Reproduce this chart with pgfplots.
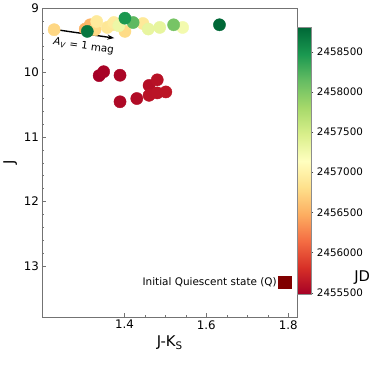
\documentclass[border=0pt]{standalone}
\usepackage{fontspec}
\setmainfont{DejaVu Sans}
\usepackage{pgfplots}
\usepackage{pgfplotstable}
\pgfplotsset{compat=1.18}
\usetikzlibrary{arrows.meta}

% J-Ks, J, Julian date (ordered by date)
\pgfplotstableread{
x     y      jd
1.338 10.052 2455480
1.349 9.991  2455500
1.389 10.046 2455520
1.389 10.457 2455540
1.430 10.407 2455560
1.460 10.204 2455580
1.480 10.117 2455600
1.460 10.357 2455610
1.480 10.320 2455620
1.501 10.305 2455630
1.304 9.330  2456500
1.316 9.264  2456520
1.228 9.340  2456750
1.328 9.340  2456760
1.401 9.366  2456780
1.358 9.305  2456880
1.370 9.264  2456890
1.445 9.244  2456900
1.332 9.213  2456920
1.374 9.229  2456930
1.542 9.305  2457250
1.386 9.279  2457300
1.458 9.330  2457340
1.486 9.305  2457350
1.520 9.264  2458050
1.421 9.229  2458170
1.401 9.162  2458470
1.309 9.366  2458700
1.632 9.264  2458800
}\pts

\begin{document}
\begin{tikzpicture}
\begin{axis}[
  name=ax,
  scale only axis, width=259pt, height=314pt,
  xmin=1.199, xmax=1.822, ymin=9, ymax=13.79, y dir=reverse,
  xtick={1.4,1.6,1.8}, minor x tick num=3,
  ytick={9,10,11,12,13}, minor y tick num=4,
  xtick pos=bottom, ytick pos=left,
  tick align=inside, major tick length=4pt, minor tick length=2pt,
  axis line style={black!55}, tick style={black!55},
  ticklabel style={font=\fontsize{12}{14}\selectfont},
  /pgf/number format/assume math mode=true,
  xlabel={J-K\textsubscript{S}}, ylabel={J},
  label style={font=\fontsize{15}{18}\selectfont},
  colormap={rdylgn}{rgb255=(165,0,38) rgb255=(215,48,39) rgb255=(244,109,67)
    rgb255=(253,174,97) rgb255=(254,224,139) rgb255=(255,255,191)
    rgb255=(217,239,139) rgb255=(166,217,106) rgb255=(102,189,99)
    rgb255=(26,152,80) rgb255=(0,104,55)},
  point meta min=2455480, point meta max=2458800,
  colorbar,
  colorbar style={
    at={(1,0.073)}, anchor=south west, xshift=0.5pt,
    scale only axis, width=14pt, height=271pt,
    ytick={2455500,2456000,2456500,2457000,2457500,2458000,2458500},
    yticklabels={2455500,2456000,2456500,2457000,2457500,2458000,2458500},
    scaled y ticks=false, ytick pos=right, yticklabel pos=right,
    tick align=outside, major tick length=2.5pt,
    axis line style={black!45}, tick style={black!70},
    yticklabel style={font=\fontsize{10.5}{12}\selectfont},
  },
  legend style={draw=none, fill=none, font=\fontsize{10.6}{12}\selectfont,
    at={(axis cs:1.794,13.253)}, anchor=east, xshift=9pt},
  legend plot pos=right,
]
\addplot[scatter, only marks, mark=*, mark size=6.2pt,
  point meta=explicit,
  mark options={line width=0.4pt},
  scatter/use mapped color={draw=mapped color, fill=mapped color},
  forget plot] table[x=x, y=y, meta=jd] {\pts};
\addlegendimage{only marks, mark=square*, mark size=6.5pt, color=red!50!black, draw=none}
\addlegendentry{Initial Quiescent state (Q)}
\draw[-{Stealth[length=7pt,width=5pt]}, line width=1.4pt] (axis cs:1.229,9.336) -- (axis cs:1.375,9.47);
\node[rotate=-8, font=\fontsize{10.5}{12}\selectfont] at (axis cs:1.300,9.60)
  {\textit{A}\textsubscript{\textit{V}} = 1 mag};
\end{axis}
\node[font=\fontsize{15}{18}\selectfont] at ([shift={(325pt,40pt)}]ax.south west) {JD};
\path ([shift={(-37pt,-53pt)}]ax.south west) rectangle ([shift={(337pt,321pt)}]ax.south west);
\end{tikzpicture}
\end{document}
